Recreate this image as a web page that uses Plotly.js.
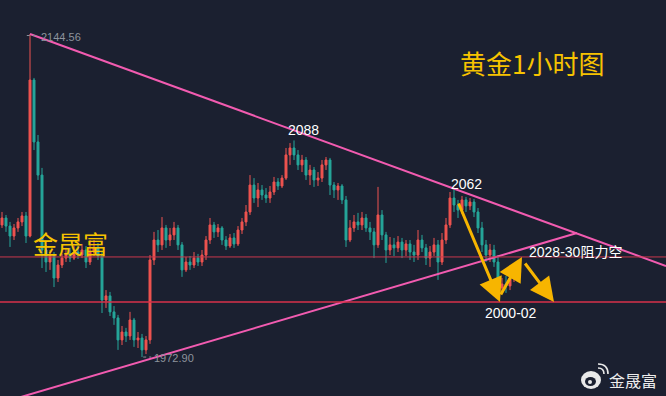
<!DOCTYPE html>
<html><head><meta charset="utf-8">
<script src="https://cdn.plot.ly/plotly-3.0.1.min.js"></script>
<style>html,body{margin:0;padding:0;background:#1b2030;}#c{width:666px;height:396px;}</style>
</head><body><div id="c"></div>
<script>
// Gold 1H candles (USD/oz)
const open = [2043.1,2046.8,2042.5,2037.2,2041.5,2044.7,2047.9,2037.2,2120.1,2087.2,
2069.6,2029.8,2023.4,2026.6,2014.9,2021.8,2025.5,2027.7,2025.5,2028.7,
2027.1,2029.8,2023.4,2028.7,2030.9,2026.6,2003.2,2005.4,1996.9,1993.7,
1982.0,1986.2,1984.1,1992.6,1982.0,1983.0,1976.7,1982.0,2024.5,2035.1,
2032.5,2041.5,2035.1,2037.8,2041.5,2032.5,2019.2,2023.4,2021.8,2025.5,
2023.4,2027.1,2035.1,2043.1,2039.4,2041.5,2035.1,2031.9,2036.2,2033.0,
2040.4,2044.7,2050.0,2064.3,2057.4,2061.7,2059.0,2057.4,2060.6,2065.9,
2063.8,2068.0,2080.3,2084.0,2080.3,2075.0,2077.6,2069.6,2072.3,2067.0,
2068.0,2075.0,2077.6,2064.3,2061.7,2063.8,2056.4,2035.1,2041.5,2044.7,
2043.1,2046.8,2041.5,2039.4,2032.5,2048.4,2037.8,2029.8,2032.5,2030.9,
2034.0,2029.8,2033.0,2028.7,2027.1,2035.1,2030.9,2025.5,2028.7,2032.5,
2023.4,2035.1,2043.1,2057.4,2053.7,2051.0,2056.4,2053.2,2055.3,2050.0,
2041.5,2032.5,2027.1,2029.8,2023.4,2009.6,2011.7,2010.7,2014.9];
const high = [2050.0,2048.4,2044.7,2043.6,2046.8,2050.0,2050.0,2144.56,2121.2,2090.9,
2073.4,2032.5,2029.8,2028.7,2024.5,2027.7,2030.9,2030.9,2031.9,2031.9,
2033.0,2031.9,2035.1,2035.1,2033.5,2028.7,2008.5,2007.5,2000.0,1995.3,
1989.4,1988.4,1996.9,1993.7,1986.2,1985.2,1984.1,2027.1,2039.4,2040.4,
2047.3,2043.1,2041.5,2044.7,2043.1,2034.0,2026.1,2026.6,2028.7,2027.7,
2029.8,2037.2,2046.8,2044.7,2043.6,2042.5,2037.2,2038.3,2038.8,2042.5,
2046.8,2053.7,2069.6,2068.0,2065.4,2064.3,2062.7,2063.8,2068.6,2068.0,
2069.6,2084.0,2086.6,2088.0,2082.9,2080.3,2079.2,2075.0,2073.9,2071.2,
2077.6,2079.2,2078.7,2065.9,2065.4,2064.8,2058.5,2045.7,2048.4,2049.5,
2050.0,2048.9,2044.7,2041.5,2063.3,2051.0,2039.4,2036.7,2036.2,2037.2,
2036.2,2035.1,2035.1,2032.5,2040.4,2037.8,2033.0,2031.9,2036.2,2035.1,
2038.8,2046.8,2060.6,2062.0,2056.4,2058.5,2058.0,2057.4,2056.9,2052.1,
2044.7,2035.1,2033.0,2032.5,2027.1,2014.9,2016.0,2018.1,2021.8];
const low = [2041.5,2039.4,2031.4,2035.1,2039.4,2042.5,2033.5,2036.5,2082.9,2067.0,
2020.2,2018.1,2019.2,2010.1,2012.8,2020.2,2023.4,2023.4,2024.5,2025.0,
2025.5,2020.2,2021.8,2026.6,2024.5,1996.3,1999.0,1994.7,1990.0,1976.7,
1979.3,1980.9,1982.0,1978.3,1977.7,1972.9,1974.5,1979.9,2021.8,2028.7,
2029.8,2030.9,2031.9,2035.1,2029.8,2015.5,2018.1,2019.2,2020.2,2021.3,
2021.3,2024.5,2033.0,2036.2,2036.7,2032.5,2029.8,2030.9,2030.9,2031.9,
2038.3,2042.5,2048.4,2054.8,2052.6,2056.4,2054.8,2054.8,2059.0,2061.7,
2062.7,2067.0,2075.0,2077.6,2072.3,2071.2,2067.0,2064.3,2063.3,2063.8,
2065.9,2072.3,2059.0,2057.4,2056.4,2054.2,2031.4,2034.0,2039.4,2040.4,
2040.4,2039.4,2035.1,2025.5,2030.9,2035.1,2022.9,2027.1,2026.6,2028.7,
2025.5,2026.6,2024.5,2023.4,2024.5,2028.7,2021.8,2020.8,2026.6,2013.9,
2021.8,2033.0,2041.5,2050.0,2046.8,2048.9,2050.0,2051.0,2047.3,2038.8,
2028.7,2023.4,2023.4,2020.8,2006.4,2007.5,2007.0,2008.5,2012.8];
const close = [2046.8,2042.5,2037.2,2041.5,2044.7,2047.9,2037.2,2120.1,2087.2,2069.6,
2029.8,2023.4,2026.6,2014.9,2021.8,2025.5,2027.7,2025.5,2028.7,2027.1,
2029.8,2023.4,2028.7,2030.9,2026.6,2003.2,2005.4,1996.9,1993.7,1982.0,
1986.2,1984.1,1992.6,1982.0,1983.0,1976.7,1982.0,2024.5,2035.1,2032.5,
2041.5,2035.1,2037.8,2041.5,2032.5,2019.2,2023.4,2021.8,2025.5,2023.4,
2027.1,2035.1,2043.1,2039.4,2041.5,2035.1,2031.9,2036.2,2033.0,2040.4,
2044.7,2050.0,2064.3,2057.4,2061.7,2059.0,2057.4,2060.6,2065.9,2063.8,
2068.0,2080.3,2084.0,2080.3,2075.0,2077.6,2069.6,2072.3,2067.0,2068.0,
2075.0,2077.6,2064.3,2061.7,2063.8,2056.4,2035.1,2041.5,2044.7,2043.1,
2046.8,2041.5,2039.4,2032.5,2048.4,2037.8,2029.8,2032.5,2030.9,2034.0,
2029.8,2033.0,2028.7,2027.1,2035.1,2030.9,2025.5,2028.7,2032.5,2023.4,
2035.1,2043.1,2057.4,2053.7,2051.0,2056.4,2053.2,2055.3,2050.0,2041.5,
2032.5,2027.1,2029.8,2023.4,2009.6,2011.7,2010.7,2014.9,2018.1];

// trend lines (bar index, price)
const resistX = [7, 166];
const resistY = [2144.56, 2021.3];
const supportX = [-1, 143.75];
const supportY = [1948.1, 2038.8];
// horizontal levels
const levels = [2026.1, 2002.2];
// projected path arrows: tail and head (bar index, price)
const arrowTail = [[114, 2055.3], [124.5, 2005.4], [130.5, 2023.4]];
const arrowHead = [[124.5, 2002.2], [130, 2026.1], [138, 2002.2]];
// labels
const extremeHigh = 2144.56, extremeLow = 1972.90;

const idx = close.map((_, i) => i);
const BG = '#1b2030';
const PINK = '#f25bb0';
const GOLD = '#f7c300';
const NUMF = 'Liberation Sans, Noto Sans CJK SC';
const CJK = 'Noto Sans CJK SC';

const traces = [
  {type:'candlestick', x: idx, open, high, low, close, hoverinfo:'skip',
   increasing:{line:{color:'#ef5350', width:1}, fillcolor:'#ef5350'},
   decreasing:{line:{color:'#26a69a', width:1}, fillcolor:'#26a69a'},
   whiskerwidth:0},
  {type:'scatter', mode:'lines', x: resistX, y: resistY, line:{color:PINK, width:2}, hoverinfo:'skip'},
  {type:'scatter', mode:'lines', x: supportX, y: supportY, line:{color:PINK, width:2}, hoverinfo:'skip'}
];

const px = v => v / 666, py = v => 1 - v / 396;
const shapes = [
  {type:'line', xref:'paper', x0:0, x1:1, yref:'y', y0:levels[0], y1:levels[0], line:{color:'#c9374b', width:1}},
  {type:'line', xref:'paper', x0:0, x1:1, yref:'y', y0:levels[1], y1:levels[1], line:{color:'#d8304a', width:1.5}},
  {type:'line', xref:'x', yref:'y', x0:6.2, x1:8.8, y0:extremeHigh-0.8, y1:extremeHigh-0.8, line:{color:'#8a909a', width:1, dash:'dot'}},
  {type:'line', xref:'x', yref:'y', x0:35.3, x1:37.3, y0:extremeLow, y1:extremeLow, line:{color:'#8a909a', width:1, dash:'dot'}},
  // weibo logo
  {type:'circle', xref:'paper', yref:'paper', x0:px(581), x1:px(601), y0:py(389), y1:py(371), fillcolor:'#e9e9e9', line:{width:0}},
  {type:'circle', xref:'paper', yref:'paper', x0:px(585), x1:px(596), y0:py(386), y1:py(377), fillcolor:BG, line:{width:0}},
  {type:'circle', xref:'paper', yref:'paper', x0:px(588), x1:px(592), y0:py(384), y1:py(380), fillcolor:'#e9e9e9', line:{width:0}},
  {type:'path', xref:'paper', yref:'paper', path:`M ${px(598)},${py(368)} Q ${px(604)},${py(368)} ${px(604)},${py(374)}`, line:{color:'#e9e9e9', width:1.6}},
  {type:'path', xref:'paper', yref:'paper', path:`M ${px(598)},${py(364)} Q ${px(608)},${py(364)} ${px(608)},${py(374)}`, line:{color:'#e9e9e9', width:1.6}}
];

const annotations = [];
for (let k = 0; k < arrowTail.length; k++) {
  annotations.push({x: arrowHead[k][0], y: arrowHead[k][1], ax: arrowTail[k][0], ay: arrowTail[k][1],
    xref:'x', yref:'y', axref:'x', ayref:'y', text:'', showarrow:true, arrowhead:2, arrowsize:1.6,
    arrowwidth:3, arrowcolor:'#f7b500', standoff:0, startstandoff:0});
}
const lbl = (o) => Object.assign({showarrow:false, xanchor:'center', yanchor:'middle'}, o);
annotations.push(
  lbl({x:9.25, y:extremeHigh - 1.6, xref:'x', yref:'y', text:extremeHigh.toFixed(2), xanchor:'left', font:{family:NUMF, size:11, color:'#8d939c'}}),
  lbl({x:37.6, y:extremeLow - 0.5, xref:'x', yref:'y', text:extremeLow.toFixed(2), xanchor:'left', font:{family:NUMF, size:11, color:'#8d939c'}}),
  lbl({x:75.25, y:2093.3, xref:'x', yref:'y', text:'2088', font:{family:NUMF, size:14, color:'#ffffff'}}),
  lbl({x:116, y:2065.1, xref:'x', yref:'y', text:'2062', font:{family:NUMF, size:14, color:'#ffffff'}}),
  lbl({x:131.25, y:2028.7, xref:'x', yref:'y', text:'2028-30阻力空', xanchor:'left', font:{family:NUMF, size:14, color:'#ffffff'}}),
  lbl({x:127.25, y:1996.3, xref:'x', yref:'y', text:'2000-02', font:{family:NUMF, size:14, color:'#ffffff'}}),
  lbl({x:px(532), y:py(62.5), xref:'paper', yref:'paper', text:'黄金1小时图', font:{family:CJK, size:26, color:GOLD}}),
  lbl({x:px(70), y:py(242.5), xref:'paper', yref:'paper', text:'金晟富', font:{family:CJK, size:25, color:GOLD}}),
  lbl({x:px(633), y:py(380), xref:'paper', yref:'paper', text:'金晟富', font:{family:CJK, size:16, color:'#ececec'}})
);

const layout = {
  width:666, height:396, margin:{l:0, r:0, t:0, b:0},
  paper_bgcolor:BG, plot_bgcolor:BG, showlegend:false,
  xaxis:{range:[-0.5, 166], visible:false, rangeslider:{visible:false}, fixedrange:true},
  yaxis:{range:[1952.21, 2162.62], visible:false, fixedrange:true},
  shapes, annotations
};
Plotly.newPlot('c', traces, layout, {staticPlot:true, displayModeBar:false});
</script></body></html>
